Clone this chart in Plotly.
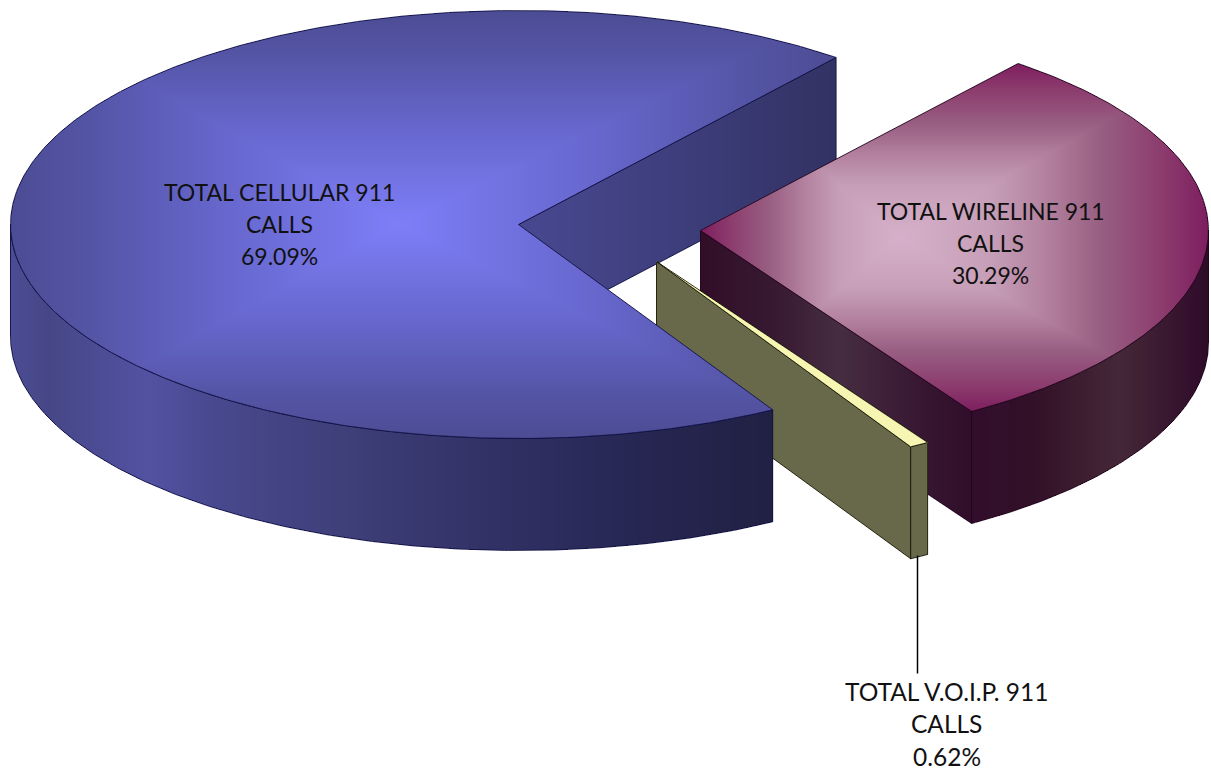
import numpy as np
import plotly.graph_objects as go

# ---- data ----
categories = ["TOTAL CELLULAR 911 CALLS", "TOTAL WIRELINE 911 CALLS", "TOTAL V.O.I.P. 911 CALLS"]
label_lines = [["TOTAL CELLULAR 911", "CALLS"], ["TOTAL WIRELINE 911", "CALLS"], ["TOTAL V.O.I.P. 911", "CALLS"]]
shares = [69.09, 30.29, 0.62]

# ---- projection and explosion of the 3-D pie ----
W, H = 1211, 771
RX, RY, DEPTH = 508.0, 214.0, 112.0
FIRST_ANGLE = 51.3
CENTRES = {"cell": (518.0, 224.0), "wire": (700.0, 230.0), "voip": (656.0, 261.0)}


def arc(c, a0, a1, dy=0.0, n=None):
    n = n or max(3, int(abs(a1 - a0) * 2))
    th = np.radians(np.linspace(a0, a1, n))
    return np.column_stack([c[0] + RX * np.cos(th), c[1] - RY * np.sin(th) + dy])


def shift(p, dy=DEPTH):
    return p + np.array([0.0, dy])


def radial_face(c, a):
    tip = np.array([c])
    rim = arc(c, a, a, n=1)
    return np.vstack([tip, rim, shift(rim), shift(tip)])


def rim_face(c, a0, a1):
    top = arc(c, a0, a1)
    return np.vstack([top, shift(top)[::-1]])


def top_face(c, a0, a1):
    return np.vstack([[c], arc(c, a0, a1)])


def scanline(poly):
    x0, x1 = int(np.floor(poly[:, 0].min())), int(np.ceil(poly[:, 0].max()))
    y0, y1 = int(np.floor(poly[:, 1].min())), int(np.ceil(poly[:, 1].max()))
    xs = np.arange(x0, x1 + 1)
    ys = np.arange(y0, y1 + 1)
    mask = np.zeros((len(ys), len(xs)), dtype=bool)
    a, b = poly, np.roll(poly, -1, axis=0)
    for r, y in enumerate(ys):
        hit = (a[:, 1] <= y) != (b[:, 1] <= y)
        if not hit.any():
            continue
        ax, ay, bx, by = a[hit, 0], a[hit, 1], b[hit, 0], b[hit, 1]
        cross = np.sort(ax + (y - ay) * (bx - ax) / (by - ay))
        for i in range(0, len(cross) - 1, 2):
            mask[r] |= (xs >= cross[i]) & (xs <= cross[i + 1])
    return xs, ys, mask


def rgb(c):
    return "rgb(%d,%d,%d)" % c


def scale(stops):
    return [[s, rgb(c)] for s, c in stops]


fig = go.Figure()
AXIS = dict(range=[-0.5, W - 0.5], visible=False)
YAXIS = dict(range=[H - 0.5, -0.5], visible=False)
layers = [0]


def next_layer():
    layers[0] += 1
    i = layers[0]
    if i == 1:
        return "x", "y"
    fig.layout[f"xaxis{i}"] = dict(AXIS, overlaying="x")
    fig.layout[f"yaxis{i}"] = dict(YAXIS, overlaying="y")
    return f"x{i}", f"y{i}"


def add_face(poly, stops, mode, outline, fx=0.5):
    xs, ys, mask = scanline(poly)
    X, Y = np.meshgrid(xs, ys)
    if mode == "path":
        lo, hi = poly[:, 0].min(), poly[:, 0].max()
        cx = lo + fx * (hi - lo)
        cy = (poly[:, 1].min() + poly[:, 1].max()) / 2
        hh = (poly[:, 1].max() - poly[:, 1].min()) / 2
        zx = np.where(X < cx, (cx - X) / (cx - lo), (X - cx) / (hi - cx))
        z = np.maximum(zx, np.abs(Y - cy) / hh)
    else:
        z = (X - mode[0]) / (mode[1] - mode[0])
    z = np.clip(z, 0, 1).astype("float32")
    z[~mask] = np.nan
    xa, ya = next_layer()
    fig.add_trace(go.Heatmap(x0=int(xs[0]), dx=1, y0=int(ys[0]), dy=1, z=z, zmin=0, zmax=1,
                             colorscale=scale(stops), showscale=False, hoverinfo="skip",
                             xaxis=xa, yaxis=ya))
    closed = np.vstack([poly, poly[:1]])
    fig.add_trace(go.Scatter(x=closed[:, 0], y=closed[:, 1], mode="lines", hoverinfo="skip",
                             line=dict(color=outline, width=1), showlegend=False,
                             xaxis=xa, yaxis=ya))


def flat(c):
    return [(0, c), (1, c)]


# angles follow the shares clockwise from FIRST_ANGLE
wire_a0 = FIRST_ANGLE
wire_a1 = wire_a0 - shares[1] * 3.6
voip_a0 = wire_a1
voip_a1 = voip_a0 - shares[2] * 3.6
cell_a0 = FIRST_ANGLE
cell_a1 = voip_a1 + 360

CELL, WIRE, VOIP = CENTRES["cell"], CENTRES["wire"], CENTRES["voip"]
LINE_C, LINE_W, LINE_V = "rgba(18,18,70,0.9)", "rgba(35,5,30,0.9)", "rgba(30,30,12,0.9)"

CELL_TOP = [(0, (126, 126, 248)), (0.5, (100, 100, 200)), (0.8, (84, 84, 165)), (1, (76, 76, 148))]
CELL_RIM = [(0, (76, 76, 148)), (0.05, (70, 70, 135)), (0.18, (82, 82, 162)), (0.27, (72, 72, 142)),
            (0.45, (62, 62, 120)), (0.65, (48, 48, 100)), (0.85, (37, 37, 80)), (1, (33, 33, 68))]
CELL_CUT = [(0, (72, 72, 145)), (0.5, (62, 62, 124)), (1, (50, 50, 100))]
WIRE_TOP = [(0, (214, 176, 202)), (0.3, (198, 158, 183)), (0.48, (178, 128, 158)), (0.65, (152, 95, 130)),
            (0.85, (140, 60, 110)), (1, (125, 30, 95))]
WIRE_RIM = [(0, (50, 14, 44)), (0.25, (50, 16, 40)), (0.62, (68, 40, 55)), (0.95, (50, 14, 44)), (1, (44, 12, 38))]
WIRE_CUT = [(0, (50, 14, 40)), (0.27, (55, 25, 50)), (0.51, (70, 45, 65)), (0.82, (55, 22, 50)), (1, (48, 14, 42))]
OLIVE = (104, 104, 74)
CREAM = (246, 246, 178)

# painter's order
add_face(radial_face(CELL, cell_a0), CELL_CUT, (CELL[0], CELL[0] + 317), LINE_C)
add_face(radial_face(WIRE, wire_a1), WIRE_CUT, (WIRE[0], WIRE[0] + 272), LINE_W)
add_face(rim_face(WIRE, wire_a1, 0), WIRE_RIM, (972, 1208), LINE_W)
add_face(top_face(WIRE, wire_a0, wire_a1), WIRE_TOP, "path", LINE_W, fx=0.39)
add_face(radial_face(VOIP, voip_a1), flat(OLIVE), (0, 1), LINE_V)
add_face(rim_face(VOIP, voip_a1, voip_a0), flat(OLIVE), (0, 1), LINE_V)
add_face(top_face(VOIP, voip_a0, voip_a1), flat(CREAM), (0, 1), LINE_V)
add_face(rim_face(CELL, 180, cell_a1), CELL_RIM, (10, 772), LINE_C)
add_face(top_face(CELL, cell_a0, cell_a1), CELL_TOP, "path", LINE_C, fx=0.47)

# leader line of the smallest slice
xa, ya = next_layer()
fig.add_trace(go.Scatter(x=[917, 917], y=[555, 673], mode="lines", hoverinfo="skip",
                         line=dict(color="black", width=1.5), showlegend=False, xaxis=xa, yaxis=ya))

LABEL_X = [279, 990, 946]
LABEL_Y = [(191, 223, 255), (210, 242, 274), (691, 723, 756)]
LABEL_SIZE = [23, 23, 24.5]
for lines, share, lx, lys, fs in zip(label_lines, shares, LABEL_X, LABEL_Y, LABEL_SIZE):
    for text, ly in zip(lines + [f"{share:.2f}%"], lys):
        fig.add_annotation(x=lx, y=ly, xref="x", yref="y", showarrow=False, align="center",
                           text=text, font=dict(family="Lato", size=fs, color="#111111"))

fig.update_layout(width=W, height=H, margin=dict(l=0, r=0, t=0, b=0), showlegend=False,
                  paper_bgcolor="white", plot_bgcolor="rgba(0,0,0,0)",
                  xaxis=AXIS, yaxis=YAXIS)
fig.write_html("out.html", config={"displayModeBar": False},
               post_script="document.body.style.margin='0';document.body.style.overflow='hidden';")
